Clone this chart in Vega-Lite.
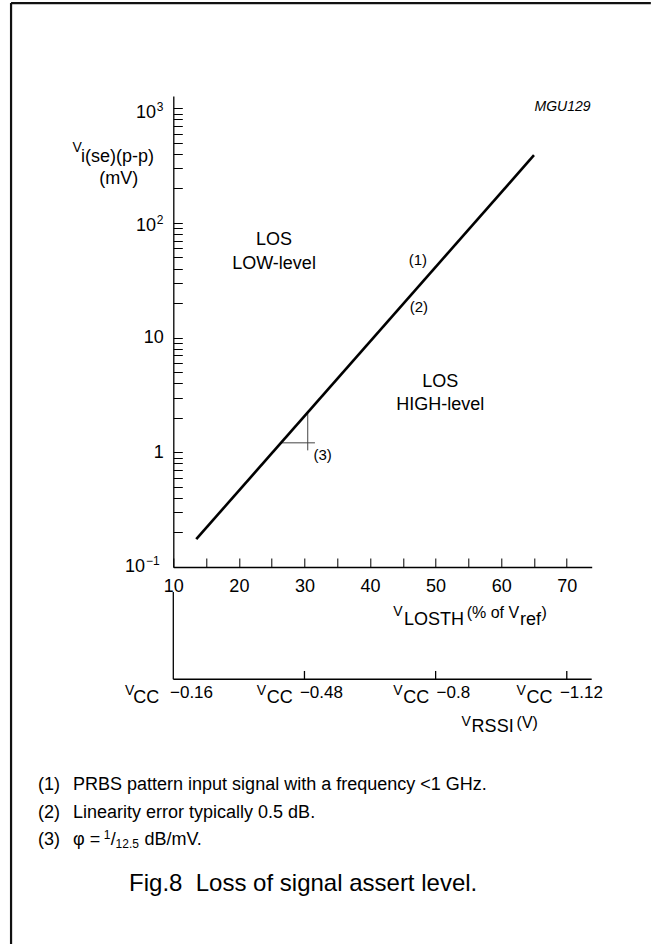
{
  "$schema": "https://vega.github.io/schema/vega-lite/v6.json",
  "width": 418.4,
  "height": 471,
  "autosize": {"type": "none"},
  "padding": {"left": 173.3, "top": 96, "right": 59.3, "bottom": 377},
  "background": "white",
  "config": {
    "view": {"stroke": null},
    "font": "Liberation Sans",
    "text": {"font": "Liberation Sans", "color": "black", "baseline": "middle"},
    "axis": {
      "domainColor": "black", "tickColor": "black", "labelColor": "black",
      "labelFont": "Liberation Sans", "labelFontSize": 18, "grid": false,
      "domainWidth": 1.3, "tickWidth": 1, "title": null
    }
  },
  "datasets": {
    "line": [{"x": 13.5, "y": 0.175}, {"x": 65, "y": 390}],
    "tri": [
      {"x": 26.4, "x2": 31.6, "y": 1.21, "y2": 1.21},
      {"x": 30.5, "x2": 30.5, "y": 1.04, "y2": 2.2}
    ],
    "axis2": [
      {"x": 10, "x2": 10, "y": 0.0605, "y2": 0.0105},
      {"x": 10, "x2": 73.8, "y": 0.0105, "y2": 0.0105},
      {"x": 30, "x2": 30, "y": 0.0105, "y2": 0.0124},
      {"x": 50, "x2": 50, "y": 0.0105, "y2": 0.0124},
      {"x": 70, "x2": 70, "y": 0.0105, "y2": 0.0124}
    ],
    "frame": [
      {"x": -14.74, "x2": 82.82, "y": 8264, "y2": 8264},
      {"x": -14.74, "x2": -14.74, "y": 8264, "y2": 0.00005166}
    ],
    "t18c": [
      {"x": 25.36, "y": 70.95, "text": "LOS"},
      {"x": 25.36, "y": 43.83, "text": "LOW-level"},
      {"x": 50.7, "y": 4.126, "text": "LOS"},
      {"x": 50.7, "y": 2.585, "text": "HIGH-level"},
      {"x": 1.68, "y": 241.3, "text": "(mV)"}
    ],
    "t18l": [
      {"x": -4.07, "y": 375.5, "text": "i(se)(p-p)"},
      {"x": 45.17, "y": 0.03472, "text": "LOSTH"},
      {"x": 62.85, "y": 0.03472, "text": "ref"},
      {"x": 3.902, "y": 0.007166, "text": "CC"},
      {"x": 24.24, "y": 0.007166, "text": "CC"},
      {"x": 45.06, "y": 0.007166, "text": "CC"},
      {"x": 63.87, "y": 0.007166, "text": "CC"},
      {"x": 55.49, "y": 0.003988, "text": "RSSI"}
    ],
    "t14l": [
      {"x": -5.37, "y": 447.2, "text": "V"},
      {"x": 43.54, "y": 0.04012, "text": "V"},
      {"x": 2.637, "y": 0.008296, "text": "V"},
      {"x": 22.71, "y": 0.008296, "text": "V"},
      {"x": 43.54, "y": 0.008296, "text": "V"},
      {"x": 62.35, "y": 0.008296, "text": "V"},
      {"x": 53.96, "y": 0.004426, "text": "V"}
    ],
    "t16l": [
      {"x": 54.73, "y": 0.03972, "text": "(% of V"},
      {"x": 66.13, "y": 0.03972, "text": ")"},
      {"x": 62.35, "y": 0.004364, "text": "(V)"}
    ],
    "t17l": [
      {"x": 9.497, "y": 0.00797, "text": "−0.16"},
      {"x": 29.31, "y": 0.00797, "text": "−0.48"},
      {"x": 50.15, "y": 0.00797, "text": "−0.8"},
      {"x": 68.95, "y": 0.00797, "text": "−1.12"}
    ],
    "notes": [
      {"x": 47.3, "y": 47.5, "text": "(1)"},
      {"x": 47.45, "y": 18.49, "text": "(2)"},
      {"x": 32.77, "y": 0.9473, "text": "(3)"}
    ],
    "code": [{"x": 69.36, "y": 1030, "text": "MGU129"}],
    "exp10": [
      {"x": 5.686, "y": 0.1, "text": "10"},
      {"x": 7.363, "y": 95, "text": "10"},
      {"x": 7.363, "y": 908, "text": "10"}
    ],
    "exps": [
      {"x": 5.838, "y": 0.1, "text": "−1"},
      {"x": 7.47, "y": 95, "text": "2"},
      {"x": 7.47, "y": 908, "text": "3"}
    ],
    "fn": [
      {"x": -10.625, "y": 0.001257, "text": "(1)"},
      {"x": -5.29, "y": 0.001257, "text": "PRBS pattern input signal with a frequency <1 GHz."},
      {"x": -10.625, "y": 0.0007166, "text": "(2)"},
      {"x": -5.29, "y": 0.0007166, "text": "Linearity error typically 0.5 dB."},
      {"x": -10.625, "y": 0.0004168, "text": "(3)"},
      {"x": -5.29, "y": 0.0004168, "text": "φ ="},
      {"x": 0.46, "y": 0.0004168, "text": "/"},
      {"x": 5.6, "y": 0.0004168, "text": "dB/mV."}
    ],
    "fnsup": [{"x": -0.6, "y": 0.0004168, "text": "1"}],
    "fnsub": [{"x": 1.2, "y": 0.0004168, "text": "12.5"}],
    "caption": [{"x": 29.8, "y": 0.0001723, "text": "Fig.8\u00a0 Loss of signal assert level."}]
  },
  "encoding": {
    "x": {
      "field": "x", "type": "quantitative",
      "scale": {"domain": [10, 73.8], "nice": false, "zero": false},
      "axis": {
        "values": [10, 15, 20, 25, 30, 35, 40, 45, 50, 55, 60, 65, 70],
        "labelExpr": "datum.value % 10 === 0 ? datum.label : ''",
        "tickSize": -9, "labelPadding": 19, "labelFlush": false, "labelOverlap": false
      }
    },
    "y": {
      "field": "y", "type": "quantitative",
      "scale": {"type": "log", "domain": [0.1, 1280], "nice": false},
      "axis": {
        "values": [0.1, 0.2, 0.3, 0.4, 0.5, 0.6, 0.7, 0.8, 0.9, 1, 2, 3, 4, 5, 6, 7, 8, 9, 10, 20, 30, 40, 50, 60, 70, 80, 90, 100, 200, 300, 400, 500, 600, 700, 800, 900, 1000],
        "labelExpr": "datum.value === 1 ? '1' : (datum.value === 10 ? '10' : '')",
        "tickSize": -9, "labelPadding": 19, "labelOverlap": false
      }
    }
  },
  "layer": [
    {"data": {"name": "frame"}, "mark": {"type": "rule", "stroke": "#111", "strokeWidth": 2.2},
     "encoding": {"x2": {"field": "x2"}, "y2": {"field": "y2"}}},
    {"data": {"name": "axis2"}, "mark": {"type": "rule", "stroke": "black", "strokeWidth": 1.3},
     "encoding": {"x2": {"field": "x2"}, "y2": {"field": "y2"}}},
    {"data": {"name": "tri"}, "mark": {"type": "rule", "stroke": "#444", "strokeWidth": 1},
     "encoding": {"x2": {"field": "x2"}, "y2": {"field": "y2"}}},
    {"data": {"name": "line"}, "mark": {"type": "line", "stroke": "black", "strokeWidth": 2.6}},
    {"data": {"name": "t18c"}, "mark": {"type": "text", "fontSize": 18, "align": "center"},
     "encoding": {"text": {"field": "text"}}},
    {"data": {"name": "t18l"}, "mark": {"type": "text", "fontSize": 18, "align": "left"},
     "encoding": {"text": {"field": "text"}}},
    {"data": {"name": "t14l"}, "mark": {"type": "text", "fontSize": 14, "align": "left"},
     "encoding": {"text": {"field": "text"}}},
    {"data": {"name": "t16l"}, "mark": {"type": "text", "fontSize": 16, "align": "left"},
     "encoding": {"text": {"field": "text"}}},
    {"data": {"name": "t17l"}, "mark": {"type": "text", "fontSize": 17, "align": "left"},
     "encoding": {"text": {"field": "text"}}},
    {"data": {"name": "notes"}, "mark": {"type": "text", "fontSize": 15, "align": "center"},
     "encoding": {"text": {"field": "text"}}},
    {"data": {"name": "code"}, "mark": {"type": "text", "fontSize": 14, "align": "center", "fontStyle": "italic"},
     "encoding": {"text": {"field": "text"}}},
    {"data": {"name": "exp10"}, "mark": {"type": "text", "fontSize": 18, "align": "right"},
     "encoding": {"text": {"field": "text"}}},
    {"data": {"name": "exps"}, "mark": {"type": "text", "fontSize": 12, "align": "left", "dy": -6},
     "encoding": {"text": {"field": "text"}}},
    {"data": {"name": "fn"}, "mark": {"type": "text", "fontSize": 18, "align": "left"},
     "encoding": {"text": {"field": "text"}}},
    {"data": {"name": "fnsup"}, "mark": {"type": "text", "fontSize": 12, "align": "left", "dy": -5},
     "encoding": {"text": {"field": "text"}}},
    {"data": {"name": "fnsub"}, "mark": {"type": "text", "fontSize": 12, "align": "left", "dy": 4},
     "encoding": {"text": {"field": "text"}}},
    {"data": {"name": "caption"}, "mark": {"type": "text", "fontSize": 24, "align": "center"},
     "encoding": {"text": {"field": "text"}}}
  ]
}
